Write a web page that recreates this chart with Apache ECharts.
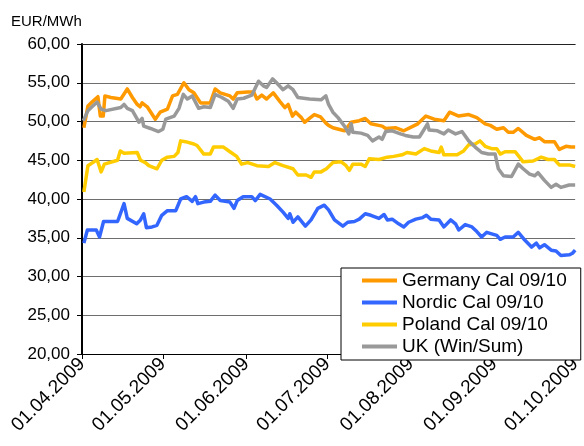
<!DOCTYPE html>
<html>
<head>
<meta charset="utf-8">
<script src="https://cdn.jsdelivr.net/npm/echarts@6/dist/echarts.min.js"></script>
<style>
html,body{margin:0;padding:0;background:#fff;}
#chart{width:584px;height:446px;}
</style>
</head>
<body>
<div id="chart"></div>
<script>
// Day offsets from 01.04.2009 and values (EUR/MWh)
const germanyDays = [0.7,2.2,4.0,5.9,6.4,6.8,7.9,8.5,10.7,14.4,16.8,18.7,20.5,21.5,22.3,24.2,27.2,29.0,31.7,33.6,35.4,37.8,39.7,41.5,44.0,47.6,49.4,51.3,54.9,56.1,57.6,61.5,63.7,64.9,66.7,68.5,71.0,73.4,75.3,76.5,78.1,79.3,81.4,82.6,84.4,86.2,88.5,90.5,91.5,93.1,97.4,99.9,102.9,105.1,107.2,111.4,112.7,116.3,119.4,122.9,124.6,127.6,130.7,134.3,136.4,139.8,143.5,146.5,149.6,151.5,153.9,156.4,158.2,160.0,161.9,164.9,168.0,169.8,171.6,175.3,177.1,179.6,181.4,183.0];
const germanyValues = [49.2,52.0,52.6,53.2,53.2,50.7,50.7,53.3,53.1,52.9,54.2,53.1,52.2,51.9,52.4,51.9,50.3,51.2,51.6,53.3,53.5,55.0,54.1,53.7,52.4,52.4,54.2,53.7,53.3,52.9,53.7,53.8,53.8,52.9,53.4,52.9,53.7,52.6,51.8,52.2,50.7,51.2,50.5,49.9,50.4,50.9,50.6,49.8,49.5,49.2,48.8,49.9,50.1,50.4,49.7,49.4,49.1,49.2,48.8,49.4,49.7,50.7,50.3,50.1,51.2,50.7,50.9,50.5,49.7,49.5,49.0,49.2,48.6,48.6,49.1,48.2,47.7,47.9,47.4,47.4,46.4,46.8,46.7,46.7];

const nordicDays = [0.7,2.0,5.3,6.5,8.0,13.2,15.6,16.8,20.3,21.7,22.9,23.9,26.0,27.8,29.6,31.7,34.8,36.6,38.8,40.9,42.1,43.0,45.2,47.6,49.4,51.3,54.9,56.4,57.6,59.8,63.0,64.3,66.1,69.8,72.2,74.6,76.5,77.1,78.3,80.1,82.9,85.0,87.5,89.9,91.5,93.7,96.8,98.6,101.1,102.9,105.1,107.2,110.2,112.1,113.3,115.1,117.5,119.4,121.2,123.9,126.4,127.8,129.4,132.5,134.3,136.8,138.6,139.8,142.2,144.7,146.5,148.3,150.2,152.0,153.9,155.2,157.0,160.0,161.9,164.3,166.8,168.6,169.8,171.6,174.1,175.9,177.7,180.8,182.0,183.0];
const nordicValues = [34.3,36.0,36.0,35.1,37.1,37.1,39.4,37.5,36.8,37.3,38.1,36.3,36.4,36.6,37.9,38.5,38.5,40.0,40.3,39.7,40.3,39.4,39.6,39.7,40.5,39.8,39.6,38.8,39.8,40.3,40.3,39.8,40.6,40.0,39.2,38.3,37.5,38.1,37.0,37.7,36.5,37.3,38.8,39.2,38.6,37.3,36.5,37.0,37.1,37.4,38.1,37.9,37.5,38.0,37.3,37.4,36.8,36.4,37.0,37.4,37.6,37.9,37.4,37.3,36.4,37.3,36.8,36.0,36.7,36.4,35.8,35.1,35.7,35.5,35.3,34.8,35.1,35.1,35.7,34.7,33.8,34.3,33.7,34.1,33.4,33.3,32.7,32.8,33.0,33.4];

const polandDays = [0.7,2.2,4.0,5.6,7.1,8.3,13.2,14.2,15.6,20.5,21.7,23.5,24.8,27.8,29.6,31.7,34.2,35.6,36.6,38.4,41.5,42.7,45.2,47.6,48.8,52.5,54.9,57.4,59.2,61.5,64.9,69.2,71.6,74.6,78.3,80.1,83.2,85.0,86.2,88.7,90.7,93.1,96.2,98.0,99.2,100.5,103.5,105.1,106.6,110.2,113.3,115.7,118.8,120.6,123.9,127.0,129.4,132.5,133.3,134.3,139.2,141.6,143.5,145.9,147.7,149.6,152.0,153.9,155.2,157.0,160.7,161.9,163.7,167.4,170.4,172.9,175.3,177.1,180.8,183.0];
const polandValues = [40.9,44.3,44.7,45.1,43.5,44.5,45.0,46.2,45.9,46.0,45.0,44.7,44.3,43.9,45.0,45.4,45.5,46.0,47.5,47.4,47.1,46.9,45.8,45.8,46.7,46.7,46.1,45.5,44.5,44.7,44.3,44.2,44.7,44.3,43.9,43.1,43.1,42.8,43.5,43.5,43.9,44.7,44.8,44.3,43.7,44.5,44.5,44.2,45.2,45.1,45.4,45.5,45.7,46.0,45.8,46.5,46.2,46.0,46.7,45.7,45.7,46.2,47.0,47.1,47.5,46.8,46.5,46.5,45.8,46.1,46.1,45.6,44.8,44.9,45.4,45.1,45.1,44.4,44.4,44.2];

const ukDays = [0.5,2.2,4.0,5.6,7.1,8.9,14.4,15.6,16.8,18.7,20.5,21.1,22.3,22.9,25.4,28.4,30.0,31.1,34.2,36.0,37.6,39.1,40.9,43.3,45.2,47.6,49.4,51.9,54.3,56.1,57.6,60.0,63.0,65.5,67.3,68.5,70.7,72.2,74.6,76.5,78.3,80.1,84.4,88.7,90.5,91.5,93.1,95.0,97.4,99.0,99.9,100.5,103.5,106.0,107.8,110.2,111.4,112.7,115.1,118.2,120.0,122.9,125.2,127.0,128.2,128.8,131.9,134.3,135.9,138.6,141.0,143.5,145.9,148.3,150.8,153.3,154.5,156.4,159.4,161.9,163.7,166.1,168.0,169.2,171.6,174.1,175.9,177.7,180.8,183.0];
const ukValues = [50.1,51.4,52.0,52.5,51.6,51.4,51.8,52.2,51.7,51.4,50.3,49.9,50.4,49.4,49.1,48.7,49.0,50.3,50.7,51.7,53.5,52.9,53.3,51.7,51.9,51.8,53.5,53.1,52.6,51.7,52.9,53.0,53.4,55.2,54.6,54.4,55.5,55.0,54.1,54.6,54.1,53.1,52.9,52.8,53.3,52.2,51.2,50.5,49.4,48.4,49.7,48.6,48.5,48.2,47.5,48.0,47.7,48.7,48.8,48.4,48.2,48.0,48.0,49.0,49.7,48.9,48.8,48.4,48.9,48.4,48.7,47.5,46.7,46.0,45.8,45.8,43.9,43.0,42.9,44.5,43.9,43.2,43.0,43.4,42.4,41.5,41.9,41.5,41.8,41.8];

const seriesNames = ['Germany Cal 09/10','Nordic Cal 09/10','Poland Cal 09/10','UK (Win/Sum)'];
const seriesColors = ['#FF9900','#3366FF','#FFCC00','#999999'];
const xTickLabels = ['01.04.2009','01.05.2009','01.06.2009','01.07.2009','01.08.2009','01.09.2009','01.10.2009'];
const yTicks = [20,25,30,35,40,45,50,55,60];
const unitLabel = 'EUR/MWh';

const DAY = 86400000;
function parseDMY(s){const p=s.split('.');return Date.UTC(+p[2],+p[1]-1,+p[0]);}
const startTs = parseDMY(xTickLabels[0]);
const endTs = parseDMY(xTickLabels[xTickLabels.length-1]);
const tickTs = xTickLabels.map(parseDMY);
function pad(n){return (n<10?'0':'')+n;}
function fmtDate(v){const d=new Date(Math.round(v/DAY)*DAY);return pad(d.getUTCDate())+'.'+pad(d.getUTCMonth()+1)+'.'+d.getUTCFullYear();}
function toData(days, vals){return days.map((d,i)=>[startTs + d*DAY, vals[i]]);}

const allDays=[germanyDays,nordicDays,polandDays,ukDays];
const allVals=[germanyValues,nordicValues,polandValues,ukValues];
const FONT = '"Liberation Sans", Arial, sans-serif';

const chart = echarts.init(document.getElementById('chart'), null, {renderer:'canvas'});
chart.setOption({
  animation:false,
  backgroundColor:'#fff',
  title:{text:unitLabel,left:6,top:9,textStyle:{fontFamily:FONT,fontSize:15,fontWeight:'normal',color:'#000'}},
  grid:{left:82,right:2,top:44,bottom:92,containLabel:false},
  legend:{
    orient:'vertical',left:341,top:268,
    data:seriesNames,
    icon:'rect',itemWidth:35,itemHeight:4,itemGap:3,
    padding:[3,14,4,21],
    borderColor:'#000',borderWidth:1,backgroundColor:'#fff',
    textStyle:{fontFamily:FONT,fontSize:19,color:'#000',lineHeight:19},
    selectedMode:false
  },
  xAxis:[{
    type:'value',min:startTs,max:endTs,
    axisLine:{show:true,lineStyle:{color:'#000',width:1}},
    axisTick:{show:true,length:5,lineStyle:{color:'#000'},customValues:tickTs},
    axisLabel:{rotate:45,margin:7,fontFamily:FONT,fontSize:19,color:'#000',customValues:tickTs,formatter:fmtDate,showMinLabel:true,showMaxLabel:true},
    splitLine:{show:false},minorTick:{show:false}
  },{
    type:'value',position:'top',min:startTs,max:endTs,
    axisLine:{show:true,lineStyle:{color:'#222',width:1}},
    axisTick:{show:false},axisLabel:{show:false},splitLine:{show:false}
  }],
  yAxis:{
    type:'value',min:yTicks[0],max:yTicks[yTicks.length-1],interval:yTicks[1]-yTicks[0],
    axisLine:{show:true,lineStyle:{color:'#000',width:2}},
    axisTick:{show:true,length:5,lineStyle:{color:'#000'}},
    axisLabel:{margin:12,fontFamily:FONT,fontSize:17,color:'#000',formatter:v=>v.toFixed(2).replace('.',',')},
    splitLine:{show:true,lineStyle:{color:'#6e6e6e',width:1}}
  },
  series:seriesNames.map((n,i)=>({
    name:n,type:'line',xAxisIndex:0,data:toData(allDays[i],allVals[i]),
    showSymbol:false,symbol:'none',smooth:false,
    lineStyle:{color:seriesColors[i],width:3.5,join:'round'},
    itemStyle:{color:seriesColors[i]}
  }))
});
</script>
</body>
</html>
